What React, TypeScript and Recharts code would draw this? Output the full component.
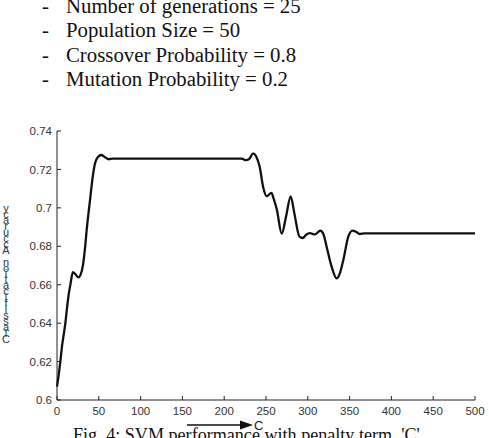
import React from "react";
import { LineChart, Line, XAxis, YAxis } from "recharts";

const headerLines = [
  "Number of generations = 25",
  "Population Size = 50",
  "Crossover Probability = 0.8",
  "Mutation Probability = 0.2",
];
const caption = "Fig. 4: SVM performance with penalty term, 'C'";
const yLabel = "Classification Accuracy";
const xLabel = "C";

const cValues = [
  0, 2, 4, 6, 8, 10, 12, 14, 16, 19, 22, 25.5, 28, 31, 33.5, 35.5, 39.5, 42.7, 45.5, 49, 53, 57, 62, 66,
  75, 221, 226, 230, 234.5, 238, 242.5, 246.5, 251, 256.5, 259, 263, 268.8, 274, 279.5, 284, 290, 294,
  298, 302.5, 308.5, 315, 318.5, 322.5, 328.5, 334.5, 338, 342.5, 348.5, 353.5, 358, 362, 368, 500,
];
const accuracy = [
  0.607, 0.613, 0.62, 0.628, 0.634, 0.64, 0.648, 0.655, 0.66, 0.6665, 0.6655, 0.6638, 0.665, 0.67, 0.679,
  0.6885, 0.704, 0.716, 0.7232, 0.7265, 0.7275, 0.7265, 0.7253, 0.7256, 0.7256, 0.7256, 0.7248, 0.7255,
  0.7284, 0.727, 0.7212, 0.711, 0.706, 0.7078, 0.705, 0.699, 0.6866, 0.6955, 0.706, 0.697, 0.685, 0.6843,
  0.686, 0.6868, 0.6862, 0.6882, 0.6865, 0.6798, 0.6694, 0.6633, 0.6655, 0.6729, 0.6851, 0.6882, 0.6875,
  0.6864, 0.6867, 0.6867,
];
const xTicks = [0, 50, 100, 150, 200, 250, 300, 350, 400, 450, 500];
const yTicks = [0.6, 0.62, 0.64, 0.66, 0.68, 0.7, 0.72, 0.74];

const data = cValues.map((c, i) => ({ c, acc: accuracy[i] }));

const serif = "'Liberation Serif', 'Times New Roman', serif";
const sans = "'Liberation Sans', Arial, sans-serif";

export default function App() {
  const yChars = yLabel.split("").reverse();
  return (
    <div style={{ position: "absolute", left: 0, top: 0, width: 489, height: 438, overflow: "hidden", background: "#fff" }}>
      <div style={{ position: "absolute", left: 0, top: 0 }}>
        <LineChart width={489} height={438} data={data} margin={{ top: 131, right: 14, bottom: 0, left: 0 }}>
          <XAxis
            dataKey="c"
            type="number"
            domain={[0, 500]}
            ticks={xTicks}
            height={38}
            tickSize={-4}
            tickMargin={11}
            stroke="#222"
            tick={{ fill: "#333", fontSize: 11.5, fontFamily: sans }}
            interval={0}
          />
          <YAxis
            type="number"
            domain={[0.6, 0.74]}
            ticks={yTicks}
            width={57}
            tickSize={-4}
            tickMargin={9}
            stroke="#222"
            tick={{ fill: "#333", fontSize: 11.5, fontFamily: sans }}
            interval={0}
          />
          <Line
            type="monotone"
            dataKey="acc"
            stroke="#111"
            strokeWidth={2.3}
            dot={false}
            isAnimationActive={false}
          />
        </LineChart>
      </div>
      <svg width={489} height={438} style={{ position: "absolute", left: 0, top: 0, pointerEvents: "none" }}>
        {headerLines.map((t, i) => (
          <g key={i}>
            <text x={42} y={12.5 + i * 24.5} fontFamily={serif} fontSize={20.8} fill="#111">-</text>
            <text x={66} y={12.5 + i * 24.5} fontFamily={serif} fontSize={20.8} fill="#111">{t}</text>
          </g>
        ))}
        <text fontFamily={sans} fontSize={11} fill="#333" textAnchor="middle">
          {yChars.map((ch, i) => (
            <tspan key={i} x={6} y={212 + i * 5.95}>{ch === " " ? "\u00a0" : ch}</tspan>
          ))}
        </text>
        <line x1={187} y1={425} x2={243} y2={425} stroke="#111" strokeWidth={1.5} />
        <polygon points="253,425 240,420.5 240,429.5" fill="#111" />
        <text x={254} y={430} fontFamily={sans} fontSize={13} fill="#222">{xLabel}</text>
        <text x={73} y={441} fontFamily={serif} fontSize={18.1} fill="#111">{caption}</text>
      </svg>
    </div>
  );
}
